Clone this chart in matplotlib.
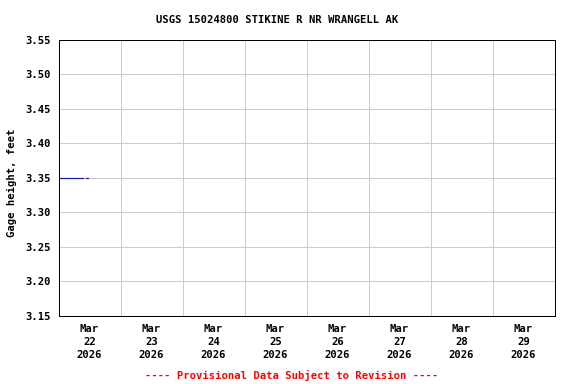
import matplotlib
matplotlib.use("Agg")
import matplotlib.pyplot as plt
import matplotlib.dates as mdates
import numpy as np
import pandas as pd

title = "USGS 15024800 STIKINE R NR WRANGELL AK"
ylabel = "Gage height, feet"
footer = "---- Provisional Data Subject to Revision ----"

times = ["2026-03-22 00:00", "2026-03-22 09:30", "2026-03-22 10:00",
         "2026-03-22 10:30", "2026-03-22 11:30"]
gage = [3.35, 3.35, np.nan, 3.35, 3.35]

day_ticks = ["2026-03-22", "2026-03-23", "2026-03-24", "2026-03-25",
             "2026-03-26", "2026-03-27", "2026-03-28", "2026-03-29", "2026-03-30"]
yticks = [3.15, 3.20, 3.25, 3.30, 3.35, 3.40, 3.45, 3.50, 3.55]

t = pd.to_datetime(times)
days = pd.to_datetime(day_ticks)

font = {"family": "DejaVu Sans Mono", "weight": "bold", "size": 10.5}

fig = plt.figure(figsize=(8, 384 / 72), dpi=72)
W, H = 576, 384
ax = fig.add_axes([58.5 / W, 1 - 316 / H, (554.5 - 58.5) / W, (316 - 39.5) / H])

ax.plot(t, gage, color="#1a1aa0", lw=1.2)

ax.set_xlim(days[0], days[-1])
ax.set_ylim(yticks[0], yticks[-1])
ax.set_yticks(yticks)
ax.set_yticklabels([f"{v:.2f}" for v in yticks], fontdict=font)
ax.set_xticks(days)
ax.set_xticklabels([])
mids = days[:-1] + pd.Timedelta(hours=12)
ax.set_xticks(mids, minor=True)
ax.set_xticklabels([d.strftime("%b\n%d\n%Y") for d in mids], minor=True,
                   fontdict=font, linespacing=1.35)
ax.tick_params(axis="both", which="both", length=0)
ax.tick_params(axis="y", pad=8)
ax.tick_params(axis="x", which="minor", pad=8)
ax.grid(True, which="major", color="#cccccc", lw=1)
ax.set_axisbelow(True)
for s in ax.spines.values():
    s.set_color("black")
    s.set_linewidth(1)

fig.text(277 / W, 1 - 20 / H, title, ha="center", va="center", fontdict=font)
fig.text(12 / W, 1 - 183 / H, ylabel, ha="center", va="center", rotation=90, fontdict=font)
fig.text(292 / W, 1 - 375 / H, footer, ha="center", va="center", color="red", fontdict=font)

fig.savefig("out.png", dpi=72)
